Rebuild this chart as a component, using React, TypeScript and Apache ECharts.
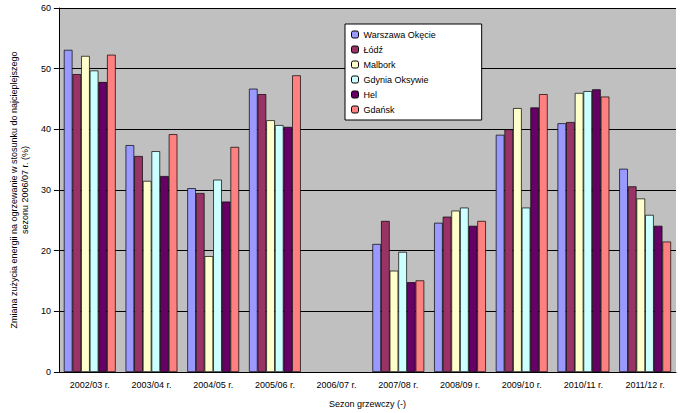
import React, { useEffect, useRef } from "react";
import * as echarts from "echarts";

const categories = ["2002/03 r.", "2003/04 r.", "2004/05 r.", "2005/06 r.", "2006/07 r.", "2007/08 r.", "2008/09 r.", "2009/10 r.", "2010/11 r.", "2011/12 r."];
const seriesNames = ["Warszawa Okęcie", "Łódź", "Malbork", "Gdynia Oksywie", "Hel", "Gdańsk"];
const colors = ["#9999FF", "#993366", "#FFFFCC", "#CCFFFF", "#660066", "#FF8080"];
const warszawa = [53.1, 37.4, 30.3, 46.7, null, 21.1, 24.6, 39.1, 41.0, 33.5];
const lodz = [49.1, 35.6, 29.5, 45.8, null, 24.9, 25.6, 40.0, 41.2, 30.6];
const malbork = [52.1, 31.5, 19.1, 41.5, null, 16.7, 26.6, 43.5, 46.0, 28.6];
const gdynia = [49.7, 36.4, 31.7, 40.7, null, 19.8, 27.1, 27.1, 46.3, 25.9];
const hel = [47.8, 32.3, 28.1, 40.4, null, 14.8, 24.1, 43.6, 46.6, 24.1];
const gdansk = [52.3, 39.2, 37.1, 48.9, null, 15.1, 24.9, 45.8, 45.4, 21.5];
const allData = [warszawa, lodz, malbork, gdynia, hel, gdansk];

export default function App() {
  const ref = useRef<HTMLDivElement>(null);
  useEffect(() => {
    const chart = echarts.init(ref.current!, null, { renderer: "svg" });
    const font = "Arial, 'Liberation Sans', sans-serif";
    chart.setOption({
      animation: false,
      backgroundColor: "#fff",
      textStyle: { fontFamily: font },
      grid: { left: 54, right: 7, top: 8, bottom: 41 },
      legend: {
        orient: "vertical",
        left: 345,
        top: 24,
        itemWidth: 7,
        itemHeight: 7,
        itemGap: 6,
        padding: [6, 46, 6, 6],
        backgroundColor: "#fff",
        borderColor: "#000",
        borderWidth: 1,
        textStyle: { fontSize: 9, color: "#000", fontFamily: font },
        data: seriesNames.map((n) => ({ name: n, itemStyle: { borderColor: "#000", borderWidth: 1 } })),
      },
      xAxis: {
        type: "category",
        data: categories,
        name: "Sezon grzewczy (-)",
        nameLocation: "middle",
        nameGap: 27,
        nameTextStyle: { fontSize: 9, color: "#000" },
        axisLine: { lineStyle: { color: "#000" } },
        axisTick: { lineStyle: { color: "#000" } },
        axisLabel: { fontSize: 9, color: "#000" },
      },
      yAxis: {
        type: "value",
        min: 0,
        max: 60,
        interval: 10,
        name: "Zmiana zużycia energii na ogrzewanie w stosunku do najcieplejszego\nsezonu 2006/07 r. (%)",
        nameLocation: "middle",
        nameGap: 24,
        nameTextStyle: { fontSize: 9, color: "#000", lineHeight: 11 },
        axisLine: { show: true, lineStyle: { color: "#000" } },
        axisTick: { show: true, lineStyle: { color: "#000" } },
        axisLabel: { fontSize: 9, color: "#000" },
        splitLine: { lineStyle: { color: "#000" } },
        splitArea: { show: true, areaStyle: { color: ["#C0C0C0"] } },
      },
      series: seriesNames.map((n, i) => ({
        name: n,
        type: "bar",
        data: allData[i],
        barGap: "0%",
        barCategoryGap: "16%",
        itemStyle: { color: colors[i], borderColor: "#000", borderWidth: 0.7 },
      })),
    });
    return () => chart.dispose();
  }, []);
  return <div ref={ref} style={{ width: 683, height: 413, position: "absolute", left: 0, top: 0 }} />;
}
